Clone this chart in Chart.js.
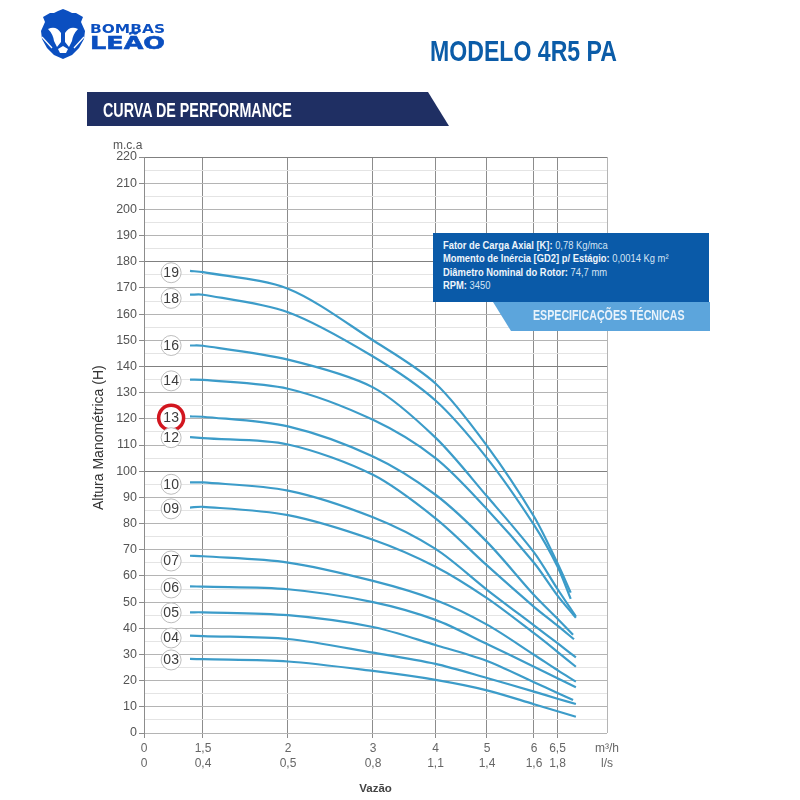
<!DOCTYPE html>
<html>
<head>
<meta charset="utf-8">
<title>Modelo 4R5 PA</title>
<script src="https://cdn.jsdelivr.net/npm/chart.js@4/dist/chart.umd.min.js"></script>
<style>
    html, body { margin: 0; padding: 0; background: #fff; }
    #page { position: relative; width: 800px; height: 800px; overflow: hidden; font-family: "Liberation Sans", sans-serif; }
    #page canvas { position: absolute; left: 0; top: 0; }
    .abs { position: absolute; white-space: nowrap; transform-origin: left top; }
    .narrow { font-weight: bold; }
    #modelo { left: 430px; top: 34px; font-size: 30px; color: #0b5ca8; transform: scaleX(0.77); }
    #banner { left: 87px; top: 92px; width: 362px; height: 34px; background: #1f2f63; clip-path: polygon(0 0, 341px 0, 100% 100%, 0 100%); }
    #bannerText { left: 103px; top: 99px; font-size: 20px; color: #fff; transform: scaleX(0.715); }
    #mca { left: 113px; top: 138px; font-size: 12px; color: #555; }
    #headTitle { left: 90px; top: 510px; font-size: 14px; color: #333; transform: rotate(-90deg); }
    #specBox { left: 433px; top: 233px; width: 276px; height: 69px; background: #0a5aa8; }
    #specTab { left: 493px; top: 302px; width: 217px; height: 29px; background: #5ca5dc; clip-path: polygon(0 0, 100% 0, 100% 100%, 18px 100%); }
    #specTitle { left: 533px; top: 306px; font-size: 15px; color: #e9f3fb; transform: scaleX(0.71); }
    .spec { left: 443px; font-size: 11.5px; color: #d4e4f4; transform: scaleX(0.815); }
    .spec b { color: #eef5fb; }
</style>
</head>
<body>
<div id="page">
    <canvas id="curveChart" width="800" height="800"></canvas>

    <svg class="abs" style="left:0;top:0" width="180" height="70" viewBox="0 0 180 70">
        <path fill="#0b4fc0" d="M63 9 L68 11 L72 13 L76 13 L83 17 L81 22 L85 31 L84 39 L79 48 L72 55 L63 59 L54 55 L47 48 L42 39 L41 31 L45 22 L43 17 L50 13 L54 13 L58 11 Z"/>
        <path fill="#fff" d="M48 29 Q56 25 61 33 L61 42 L57 47 L54 41 Q53 34 48 29 Z M78 29 Q70 25 65 33 L65 42 L69 47 L72 41 Q73 34 78 29 Z M58 49 L63 46 L68 49 L66 53 L60 53 Z"/>
        <path fill="none" stroke="#fff" stroke-width="1.3" d="M42 37 L52 48 M84 37 L74 48"/>
        <text x="90" y="33" font-family="DejaVu Sans" font-weight="bold" font-size="11.5" fill="#0b4fc0" textLength="75" lengthAdjust="spacingAndGlyphs">BOMBAS</text>
        <text x="90" y="49" font-family="DejaVu Sans" font-weight="bold" font-size="17" fill="#0b4fc0" stroke="#0b4fc0" stroke-width="0.5" textLength="75" lengthAdjust="spacingAndGlyphs">LEÃO</text>
    </svg>

    <div id="modelo" class="abs narrow">MODELO 4R5 PA</div>
    <div id="banner" class="abs"></div>
    <div id="bannerText" class="abs narrow">CURVA DE PERFORMANCE</div>
    <div id="mca" class="abs">m.c.a</div>
    <div id="headTitle" class="abs">Altura Manométrica (H)</div>

    <div id="specBox" class="abs"></div>
    <div class="abs spec" style="top:239px"><b>Fator de Carga Axial [K]:</b> 0,78 Kg/mca</div>
    <div class="abs spec" style="top:252px"><b>Momento de Inércia [GD2] p/ Estágio:</b> 0,0014 Kg m²</div>
    <div class="abs spec" style="top:266px"><b>Diâmetro Nominal do Rotor:</b> 74,7 mm</div>
    <div class="abs spec" style="top:279px"><b>RPM:</b> 3450</div>
    <div id="specTab" class="abs"></div>
    <div id="specTitle" class="abs narrow">ESPECIFICAÇÕES TÉCNICAS</div>
</div>

<script>
// Flow read points (m3/h), the last point of each curve is in endFlow
const flowPoints = [1.17, 1.5, 2, 3, 4, 5, 6, 6.5];

const curveNames = ['19', '18', '16', '14', '13', '12', '10', '09', '07', '06', '05', '04', '03'];
const endFlow = [6.78, 6.78, 6.89, 6.89, 6.83, 6.85, 6.89, 6.89, 6.89, 6.89, 6.83, 6.89, 6.89];

// Head (m.c.a) per curve
const head19 = [176.5, 176, 169.7, 150, 133.5, 109.7, 82.7, 64.8, 53.6];
const head18 = [167.4, 167.4, 160.7, 143.8, 127, 105, 79.5, 63.6, 51.2];
const head16 = [148, 147.9, 142.6, 132, 112.8, 90.4, 69, 55, 44.5];
const head14 = [135, 134.9, 131.5, 119.6, 105, 85.5, 65, 52.5, 44];
const head13 = [120.9, 120.8, 117.1, 105.6, 91, 73, 52.7, 43.6, 37.5];
const head12 = [113, 112.6, 110.2, 98.6, 82, 64, 48.2, 41, 35.8];
const head10 = [95.7, 95.7, 92.6, 82.4, 70.3, 54.7, 41.1, 34.3, 28.9];
const head09 = [86.1, 86.4, 83.2, 73.8, 63.5, 51.5, 38.1, 31, 25.3];
const head07 = [67.7, 67.5, 65.1, 58.1, 50.8, 41.4, 29.9, 24, 19.6];
const head06 = [56, 55.9, 54.9, 50, 43.2, 34, 25.3, 20.9, 17.5];
const head05 = [46.1, 46.1, 45, 40.5, 33.6, 27.5, 19.4, 15.3, 12.6];
const head04 = [37.2, 37, 35.9, 30.7, 26.4, 21, 15.8, 13.1, 11.1];
const head03 = [28.3, 28.2, 27.3, 23.7, 20.3, 16.3, 11, 8.3, 6.2];
const curveHeads = [head19, head18, head16, head14, head13, head12, head10, head09, head07, head06, head05, head04, head03];

// Circled stage numbers
const badgeFlow = 0.69;
const badgeHeads = [175.8, 166, 148, 134.5, 120.4, 112.8, 95, 85.6, 65.7, 55.4, 45.9, 36.3, 27.9];
const highlightedCurve = '13';

// Tick labels of the two flow rows
const flowTicks = [0, 1.5, 2, 3, 4, 5, 6, 6.5, 7.55];
const flowLabelsM3h = ['0', '1,5', '2', '3', '4', '5', '6', '6,5', 'm³/h'];
const flowLabelsLs = ['0', '0,4', '0,5', '0,8', '1,1', '1,4', '1,6', '1,8', 'l/s'];
const darkHeadLines = [220, 180, 140, 100];

// The printed flow axis is not linear: each tick sits at its own share of the width
const flowTickShares = [0, 0.1274, 0.311, 0.4946, 0.6296, 0.7408, 0.8423, 0.8931, 1];

class FlowScale extends Chart.LinearScale {
    getPixelForValue(value) {
        if (value === null || value === undefined) return NaN;
        let i = 0;
        while (i < flowTicks.length - 2 && value > flowTicks[i + 1]) i++;
        const t = (value - flowTicks[i]) / (flowTicks[i + 1] - flowTicks[i]);
        return this.getPixelForDecimal(flowTickShares[i] + t * (flowTickShares[i + 1] - flowTickShares[i]));
    }
    getValueForPixel(pixel) {
        const d = this.getDecimalForPixel(pixel);
        let i = 0;
        while (i < flowTicks.length - 2 && d > flowTickShares[i + 1]) i++;
        const t = (d - flowTickShares[i]) / (flowTickShares[i + 1] - flowTickShares[i]);
        return flowTicks[i] + t * (flowTicks[i + 1] - flowTicks[i]);
    }
}
FlowScale.id = 'flow';
FlowScale.defaults = Chart.LinearScale.defaults;
Chart.register(FlowScale);

const curveDatasets = curveNames.map((name, c) => ({
    label: name,
    data: curveHeads[c].map((h, i) => ({ x: i < flowPoints.length ? flowPoints[i] : endFlow[c], y: h })),
    borderColor: '#3c9cc9',
    borderWidth: 2.2,
    pointRadius: 0,
    tension: 0.3,
    order: 2
}));

const badgeDataset = {
    label: 'badges',
    data: badgeHeads.map(h => ({ x: badgeFlow, y: h })),
    showLine: false,
    pointStyle: 'circle',
    pointRadius: ctx => curveNames[ctx.dataIndex] === highlightedCurve ? 12.5 : 10,
    pointBackgroundColor: '#fff',
    pointBorderColor: ctx => curveNames[ctx.dataIndex] === highlightedCurve ? '#d2161f' : '#bdbdbd',
    pointBorderWidth: ctx => curveNames[ctx.dataIndex] === highlightedCurve ? 3.5 : 1,
    order: 1
};

// Writes the stage number inside each circle
const badgeText = {
    id: 'badgeText',
    afterDatasetsDraw(chart) {
        const { ctx, scales } = chart;
        ctx.save();
        ctx.font = '14px "Liberation Sans"';
        ctx.fillStyle = '#3d3d3d';
        ctx.textAlign = 'center';
        ctx.textBaseline = 'middle';
        curveNames.forEach((name, i) => {
            ctx.fillText(name, scales.x.getPixelForValue(badgeFlow), scales.y.getPixelForValue(badgeHeads[i]) + 0.5);
        });
        ctx.restore();
    }
};

new Chart(document.getElementById('curveChart'), {
    type: 'line',
    data: { datasets: [...curveDatasets, badgeDataset] },
    plugins: [badgeText],
    options: {
        responsive: false,
        animation: false,
        events: [],
        layout: { padding: { left: 90, top: 157, right: 193, bottom: 4 } },
        plugins: { legend: { display: false }, tooltip: { enabled: false } },
        scales: {
            x: {
                type: 'flow',
                min: 0,
                max: 7.55,
                afterBuildTicks: scale => { scale.ticks = flowTicks.map(v => ({ value: v })); },
                afterFit: scale => { scale.height = 63; },
                grid: {
                    color: ctx => ctx.index === flowTicks.length - 1 ? '#b5b5b5' : '#8c8c8c',
                    tickColor: ctx => ctx.index === flowTicks.length - 1 ? 'rgba(0,0,0,0)' : '#8c8c8c',
                    tickLength: 5,
                    lineWidth: 1
                },
                border: { display: false },
                ticks: {
                    autoSkip: false,
                    maxRotation: 0,
                    padding: 3,
                    color: '#666',
                    font: { size: 12, family: '"Liberation Sans"', lineHeight: 1.25 },
                    callback: (value, index) => [flowLabelsM3h[index], flowLabelsLs[index]]
                },
                title: {
                    display: true,
                    text: 'Vazão',
                    color: '#444',
                    font: { size: 11.5, weight: 'bold', family: '"Liberation Sans"' },
                    padding: 0
                }
            },
            y: {
                min: 0,
                max: 220,
                ticks: {
                    stepSize: 5,
                    autoSkip: false,
                    padding: 2,
                    color: '#555',
                    font: { size: 12.5, family: '"Liberation Sans"' },
                    callback: value => value % 10 === 0 ? String(value) : ''
                },
                afterFit: scale => { scale.width = 54; },
                grid: {
                    color: ctx => {
                        const v = ctx.tick.value;
                        if (darkHeadLines.includes(v)) return '#808080';
                        return v % 10 === 0 ? '#b4b4b4' : '#e4e4e4';
                    },
                    tickColor: ctx => ctx.tick.value % 10 === 0 ? '#8c8c8c' : 'rgba(0,0,0,0)',
                    tickLength: 5,
                    lineWidth: 1
                },
                border: { display: true, color: '#8c8c8c' }
            }
        }
    }
});
</script>
</body>
</html>
